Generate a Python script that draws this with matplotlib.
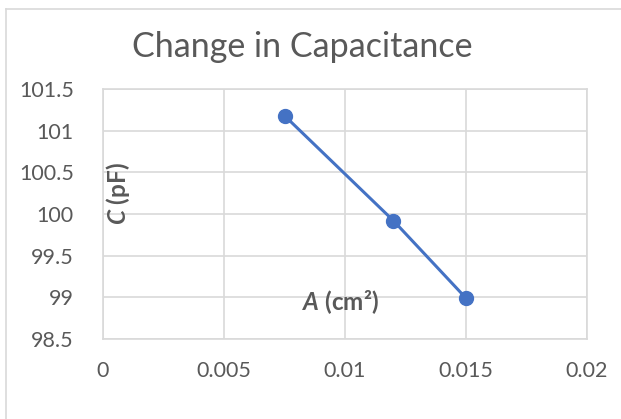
import matplotlib.pyplot as plt
from matplotlib.lines import Line2D

# ── Data ───────────────────────────────────────────────────────────────────────
area = [0.0075, 0.012, 0.015]          # A (cm²)
capacitance = [101.18, 99.92, 98.99]   # C (pF)

x_ticks = [0, 0.005, 0.01, 0.015, 0.02]
x_labels = ['0', '0.005', '0.01', '0.015', '0.02']
y_ticks = [98.5, 99, 99.5, 100, 100.5, 101, 101.5]
y_labels = ['98.5', '99', '99.5', '100', '100.5', '101', '101.5']

# ── Style ──────────────────────────────────────────────────────────────────────
LINE = '#4472c4'
TEXT = '#595959'
GRID = '#d9d9d9'

plt.rcParams.update({
    'font.family': ['Lato', 'DejaVu Sans'],
    'mathtext.fontset': 'custom',
    'mathtext.rm': 'Lato',
    'mathtext.it': 'Lato:italic',
    'mathtext.bf': 'Lato:bold',
    'mathtext.bfit': 'Lato:italic:bold',
})

W, H = 621, 419
fig = plt.figure(figsize=(W / 100, H / 100), dpi=100)

# chart frame: only its top and left edges fall inside the image
fx, fy = 6 / W, 1 - 9 / H
fig.lines.append(Line2D([fx, fx], [0, fy], transform=fig.transFigure, color=GRID, lw=1.2))
fig.lines.append(Line2D([fx, 1], [fy, fy], transform=fig.transFigure, color=GRID, lw=1.2))

ax = fig.add_axes([103 / W, 1 - 339 / H, (587 - 103) / W, (339 - 89) / H])

ax.plot(area, capacitance, color=LINE, lw=2.2, marker='o', ms=10,
        markerfacecolor=LINE, markeredgecolor=LINE, zorder=3)

ax.set_xlim(0, 0.02)
ax.set_ylim(98.5, 101.5)
ax.set_xticks(x_ticks, x_labels)
ax.set_yticks(y_ticks, y_labels)
ax.tick_params(length=0, labelsize=15.5, labelcolor=TEXT)
ax.tick_params(axis='x', pad=16)
ax.tick_params(axis='y', pad=21)
ax.grid(True, color=GRID, lw=1.2)
ax.set_axisbelow(True)
for s in ax.spines.values():
    s.set_color(GRID)
    s.set_linewidth(1.2)

# axis titles sit inside the plot area
fig.text(118 / W, 1 - 194 / H, r'$\mathbfit{C}$ (pF)', rotation=90,
         ha='center', va='center', fontsize=17.5, fontweight='bold', color=TEXT)
fig.text(341 / W, 1 - 302 / H, r'$\mathbfit{A}$ (cm²)',
         ha='center', va='center', fontsize=17.5, fontweight='bold', color=TEXT)

fig.text(302 / W, 1 - 47 / H, 'Change in Capacitance',
         ha='center', va='center', fontsize=24.5, color=TEXT)

fig.savefig('out.png', dpi=100)
